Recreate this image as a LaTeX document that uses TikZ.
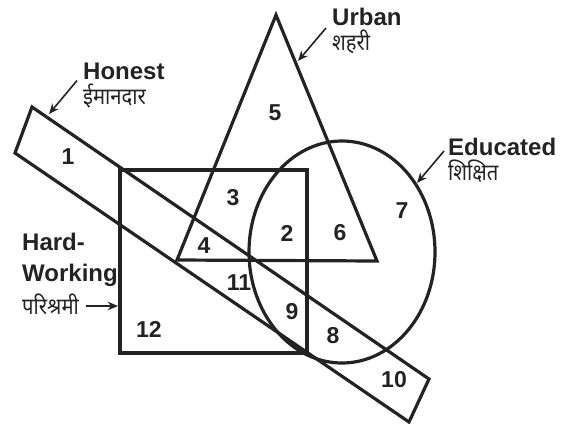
\documentclass[tikz,border=0pt]{standalone}
\usepackage{fontspec}
\setmainfont{Liberation Sans}
\newfontfamily\hindifont[Script=Devanagari, FakeStretch=0.88]{Noto Sans}
\usetikzlibrary{arrows.meta, positioning}
\definecolor{inkgray}{RGB}{35,35,35}

\begin{document}
\begin{tikzpicture}[x=1pt, y=-1pt,
        region/.style={draw=inkgray, line width=3.2pt},
        num/.style={font=\fontsize{23}{23}\selectfont\bfseries, text=inkgray, inner sep=0pt},
        title/.style={font=\fontsize{24}{31}\selectfont\bfseries, text=inkgray, inner sep=0pt,
                      anchor=west, align=left},
        hindi/.style={font=\hindifont\fontsize{23}{23}\selectfont, text=inkgray, inner sep=0pt},
        pointer/.style={-{Stealth[length=3.6mm, width=3mm]}, line width=1.6pt, inkgray}
    ]
        \useasboundingbox (0,0) rectangle (569,423);

        % the four sets
        \draw[region] (120,170) rectangle (307,353);
        \draw[region] (276,15) -- (177,260) -- (377,261) -- cycle;
        \draw[region] (32,107) -- (15,153) -- (409,422) -- (429,379) -- cycle;
        \draw[region] (342,252) ellipse [x radius=93, y radius=111];

        % regions
        \node[num] (r1) at (68,157) {1};
        \node[num] (r2) at (287,233) {2};
        \node[num] (r3) at (233,198) {3};
        \node[num] (r4) at (204,246) {4};
        \node[num] (r5) at (275,113) {5};
        \node[num] (r6) at (340,233) {6};
        \node[num] (r7) at (402,211) {7};
        \node[num] (r8) at (333,336) {8};
        \node[num] (r9) at (292,312) {9};
        \node[num] (r10) at (394,380) {10};
        \node[num] (r11) at (239,283) {11};
        \node[num] (r12) at (149,329) {12};

        % labels
        \node[title] (honest) at (83,71) {Honest};
        \node[hindi, below=4pt of honest.south west, anchor=north west] (honesthi) {ईमानदार};
        \node[title] (urban) at (332,17) {Urban};
        \node[hindi, below=4pt of urban.south west, anchor=north west] (urbanhi) {शहरी};
        \node[title] (educated) at (448,147) {Educated};
        \node[hindi, below=4pt of educated.south west, anchor=north west] (educatedhi) {शिक्षित};
        \node[title] (hard) at (22,260) {Hard-\\Working};
        \node[hindi, below=7pt of hard.south west, anchor=north west] (hardhi) {परिश्रमी};

        \coordinate (honestpt) at (49,114);
        \coordinate (urbanpt) at (298,61);
        \coordinate (educatedpt) at (417,183);
        \coordinate (hardpt) at (118,306);

        \draw[pointer] ([shift={(-6,-3)}]honesthi.north west) -- (honestpt);
        \draw[pointer] ([shift={(-6,-2)}]urbanhi.north west) -- (urbanpt);
        \draw[pointer] ([shift={(-4,-5)}]educated.south west) -- (educatedpt);
        \draw[pointer] ([xshift=7pt]hardpt -| hardhi.east) -- (hardpt);
    \end{tikzpicture}
\end{document}
